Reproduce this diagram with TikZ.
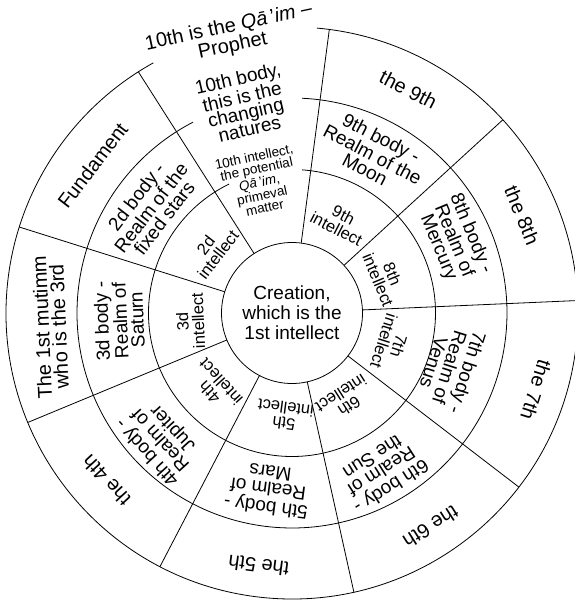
\documentclass[tikz,border=0pt]{standalone}
\usepackage{fontspec}
\setmainfont{Liberation Sans}
\begin{document}
\begin{tikzpicture}[x=1pt,y=1pt, line width=0.8pt,
  outertext/.style={font=\fontsize{20}{17}\selectfont, align=center, inner sep=0pt},
  bodytext/.style={font=\fontsize{19}{16.5}\selectfont, align=center, inner sep=0pt},
  inteltext/.style={font=\fontsize{16.5}{15.5}\selectfont, align=center, inner sep=0pt},
  smalltext/.style={font=\fontsize{13.5}{11}\selectfont, align=center, inner sep=0pt},
  coretext/.style={circle, draw, minimum size=141pt, inner sep=0pt, font=\fontsize{19}{20}\selectfont, align=center}]
\useasboundingbox (-292,-292) rectangle (283,313);
% rings
\node[coretext] (core) at (0,0) {Creation,\\which is the\\1st intellect};
\draw (86:143.5) arc[start angle=86, end angle=-244, radius=143.5];
\draw (87.3:215) arc[start angle=87.3, end angle=-242.6, radius=215];
\draw (85:286) arc[start angle=85, end angle=-241, radius=286];
\foreach \a in {82.5,122.5,...,402.5} \draw (\a:70.5) -- (\a:286);
% outer ring
\node[outertext, rotate=12] (o10) at (102.5:283) {10th is the \textit{Qā}\,’\textit{im} –\\Prophet};
\node[outertext, rotate=-27.5] (o9) at (62.5:252) {the 9th};
\node[outertext, rotate=-67.5] (o8) at (23:250) {the 8th};
\node[outertext, rotate=-107.5] (o7) at (-17.5:256) {the 7th};
\node[outertext, rotate=-147.5] (o6) at (-57:255) {the 6th};
\node[outertext, rotate=172.5] (o5) at (-97.5:255) {the 5th};
\node[outertext, rotate=132.5] (o4) at (222:250) {the 4th};
\node[outertext, rotate=92.5] (o3) at (183.3:242) {The 1st mutimm\\who is the 3rd};
\node[outertext, rotate=52.5] (o2) at (143.5:248) {Fundament};
% body ring
\node[bodytext, rotate=13] (b10) at (103:215) {10th body,\\this is the\\changing\\natures};
\node[bodytext, rotate=-27.5] (b9) at (63:179) {9th body -\\Realm of the\\Moon};
\node[bodytext, rotate=-67.5] (b8) at (24:178) {8th body -\\Realm of\\Mercury};
\node[bodytext, rotate=-107.5] (b7) at (-19:168) {7th body -\\Realm of\\Venus};
\node[bodytext, rotate=-147.5] (b6) at (-60.5:183) {6th body -\\Realm of\\the Sun};
\node[bodytext, rotate=172.5] (b5) at (-97.7:179) {5th body -\\Realm of\\Mars};
\node[bodytext, rotate=132.5] (b4) at (224:183) {4th body -\\Realm of\\Jupiter};
\node[bodytext, rotate=92.5] (b3) at (182.5:173) {3d body -\\Realm of\\Saturn};
\node[bodytext, rotate=52.5] (b2) at (143.3:177) {2d body -\\Realm of the\\fixed stars};
% intellect ring
\node[smalltext, rotate=12] (i10) at (104:135) {10th intellect,\\the potential\\\textit{Qā}\,’\textit{im},\\primeval\\matter};
\node[inteltext, rotate=-27.5] (i9) at (62.2:103) {9th\\intellect};
\node[inteltext, rotate=-67.5] (i8) at (21:100) {8th\\intellect};
\node[inteltext, rotate=-107.5] (i7) at (-17:104) {7th\\intellect};
\node[inteltext, rotate=-147.5] (i6) at (-58.5:102) {6th\\intellect};
\node[inteltext, rotate=172.5] (i5) at (-94:103) {5th\\intellect};
\node[inteltext, rotate=132.5] (i4) at (224:107) {4th\\intellect};
\node[inteltext, rotate=92.5] (i3) at (184.5:102) {3d\\intellect};
\node[inteltext, rotate=52.5] (i2) at (141.8:102) {2d\\intellect};
\end{tikzpicture}
\end{document}
